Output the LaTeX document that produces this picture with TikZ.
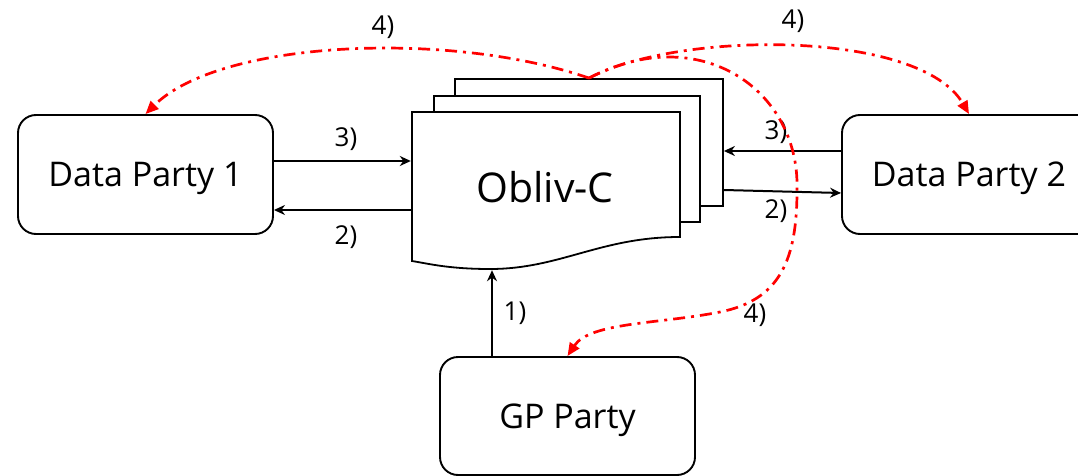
\documentclass[tikz,border=0pt]{standalone}
\usepackage{fontspec}
\setmainfont{Open Sans}
\usetikzlibrary{calc,arrows.meta}
\tikzset{
  party/.style={
    draw=black,
    line width=1.9pt,
    rounded corners=18pt,
    fill=white,
    minimum width=255pt,
    minimum height=119pt,
    inner sep=0pt,
    text depth=0pt,
    font=\fontsize{34}{40}\selectfont
  },
  sheet/.style={draw=black, line width=1.8pt, fill=white, inner sep=0pt},
  flow/.style={line width=2pt, -{Stealth[length=11pt,width=10pt]}},
  reveal/.style={draw=red, line width=2.7pt, dash pattern=on 12pt off 6pt on 3pt off 6pt,
    -{Triangle[length=13pt,width=11pt]}},
  lbl/.style={font=\fontsize{26}{30}\selectfont, inner sep=0pt},
}

\begin{document}
\begin{tikzpicture}[x=1pt, y=-1pt]
  \clip (0,0) rectangle (1078,476);
  \fill[white] (0,0) rectangle (1078,476);

  % parties
  \node[party] (dp1) at (145.5,174.5) {Data Party 1};
  \node[party, minimum width=254pt] (dp2) at (969,174.5) {Data Party 2};
  \node[party, minimum height=118pt] (gp) at (567.5,416) {GP Party};

  % stacked documents
  \node[sheet, minimum width=268pt, minimum height=127pt] (back) at (589,142.5) {};
  \node[sheet, minimum width=266pt, minimum height=126pt] (mid) at (567,159) {};
  \draw[sheet] (412,112) -- (680,112) -- (680,237)
    .. controls (600,237) and (560,269) .. (490,269)
    .. controls (450,269) and (430,264) .. (412,261) -- cycle;
  \node[minimum width=268pt, minimum height=150pt, inner sep=0pt, text depth=0pt,
    font=\fontsize{41}{48}\selectfont] (doc) at (545,187) {Obliv-C};

  \draw[flow] ($(dp1.east)+(0,-13.5)$) -- ($(doc.west)+(0,-26)$);
  \draw[flow] ($(doc.west)+(0,23)$) -- ($(dp1.east)+(0,35.5)$);
  \draw[flow] ($(dp2.west)+(0,-23.5)$) -- ($(back.east)+(0,8.5)$);
  \draw[flow] ($(back.east)+(0,47.5)$) -- ($(dp2.west)+(0,18.5)$);
  \draw[flow] ($(gp.north)+(-75.5,0)$) -- ($(doc.south)+(-53,8)$);

  \node[lbl] (l3a) at (346,139) {3)};
  \node[lbl] (l2a) at (346,237) {2)};
  \node[lbl] (l3b) at (776,132) {3)};
  \node[lbl] (l2b) at (776,211) {2)};
  \node[lbl] (l1) at (515,313) {1)};
  \node[lbl] (l4a) at (383,27) {4)};
  \node[lbl] (l4b) at (793,21) {4)};
  \node[lbl] (l4c) at (755,315) {4)};

  % result distribution
  \draw[reveal] (back.north) .. controls (450,30) and (220,40) .. (dp1.north);
  \draw[reveal] (back.north) .. controls (680,30) and (920,30) .. (dp2.north);
  \draw[reveal] (back.north) .. controls (700,20) and (800,90) .. (797,190)
    .. controls (797,260) and (780,300) .. (720,312)
    .. controls (660,324) and (590,322) .. (gp.north);
\end{tikzpicture}
\end{document}
